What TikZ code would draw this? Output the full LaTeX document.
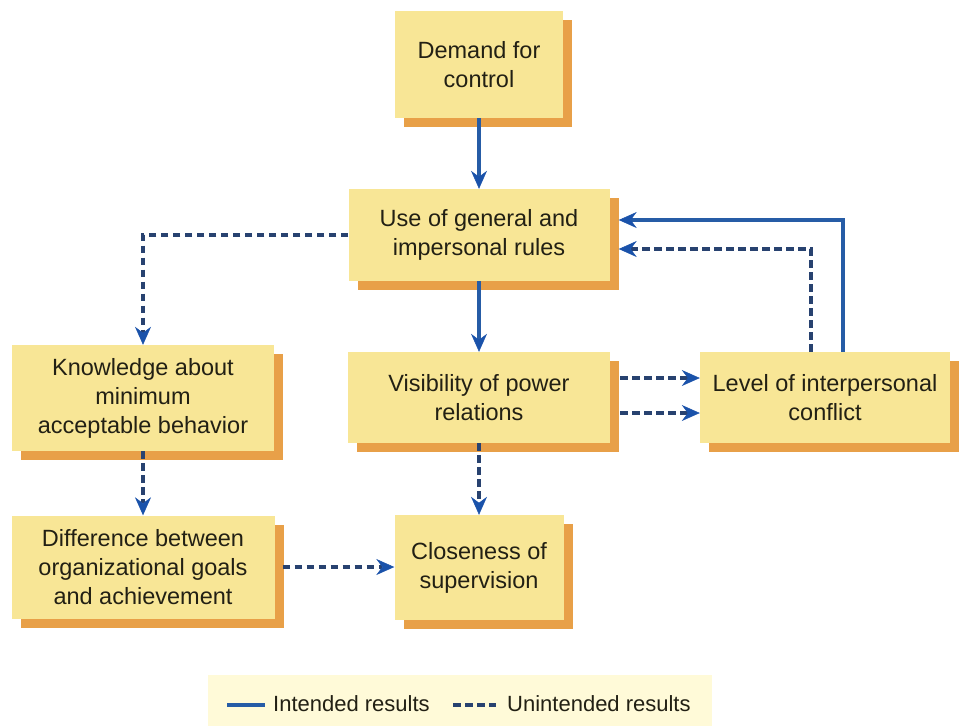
\documentclass[tikz,border=0pt]{standalone}
\usepackage{fontspec}
\setmainfont{Liberation Sans}
\usetikzlibrary{arrows.meta,shadows,calc}

\definecolor{boxfill}{RGB}{248,230,150}
\definecolor{boxshade}{RGB}{232,160,72}
\definecolor{legendfill}{RGB}{255,250,216}
\definecolor{solidblue}{RGB}{38,92,166}
\definecolor{dashnavy}{RGB}{40,66,112}
\definecolor{tipblue}{RGB}{26,82,170}
\definecolor{inkdark}{RGB}{34,32,20}

\tikzset{
  factor/.style={
    fill=boxfill, draw=none, align=center, text=inkdark,
    font=\fontsize{23.5pt}{29pt}\selectfont,
    inner sep=0pt,
    copy shadow={shadow xshift=9pt, shadow yshift=-9pt, fill=boxshade, draw=none, opacity=1}
  },
  tip/.style={-{Stealth[length=18pt,width=16pt,inset=6pt,color=tipblue,fill=tipblue,line width=0.5pt]}},
  intended/.style={tip, draw=solidblue, line width=3.2pt},
  unintended/.style={tip, draw=dashnavy, line width=3.2pt, dash pattern=on 7.5pt off 4.5pt},
  legendtext/.style={text=inkdark, font=\fontsize{22pt}{26pt}\selectfont, inner sep=0pt, anchor=west}
}

\begin{document}
\begin{tikzpicture}[x=1pt, y=-1pt]
  \useasboundingbox (0,0) rectangle (961,726);

  % factors
  \node[factor, minimum width=168pt, minimum height=107pt] (demand) at (479,64.5) {Demand for\\control};
  \node[factor, minimum width=261pt, minimum height=92pt] (rules) at (479,235) {Use of general and\\impersonal rules};
  \node[factor, minimum width=262pt, minimum height=106pt] (know) at (143,398) {Knowledge about\\minimum\\acceptable behavior};
  \node[factor, minimum width=262pt, minimum height=91pt] (vis) at (479,397.5) {Visibility of power\\relations};
  \node[factor, minimum width=250pt, minimum height=91pt] (level) at (825,397.5) {Level of interpersonal\\conflict};
  \node[factor, minimum width=263pt, minimum height=103pt] (diff) at (143,567) {Difference between\\organizational goals\\and achievement};
  \node[factor, minimum width=169pt, minimum height=105pt] (close) at (479,567.5) {Closeness of\\supervision};

  % intended results
  \draw[intended] (demand.south) -- (rules.north);
  \draw[intended] (rules.south) -- (vis.north);
  \draw[intended] ([xshift=18pt]level.north) |- ([xshift=9pt,yshift=15pt]rules.east);

  % unintended results
  \draw[unintended] (rules.west) -| (know.north);
  \draw[unintended] (know.south) -- (diff.north);
  \draw[unintended] (vis.south) -- (close.north);
  \draw[unintended] ([xshift=8pt]diff.east) -- (close.west |- diff.east);
  \draw[unintended] ([xshift=10pt,yshift=19.5pt]vis.east) -- ([yshift=19.5pt]level.west);
  \draw[unintended] ([xshift=10pt,yshift=-15.5pt]vis.east) -- ([yshift=-15.5pt]level.west);
  \draw[unintended] ([xshift=-14pt]level.north) |- ([xshift=9pt,yshift=-14pt]rules.east);

  % legend
  \node[fill=legendfill, minimum width=504pt, minimum height=51pt, inner sep=0pt] (legend) at (460,700.5) {};
  \coordinate (solidA) at (227,705);
  \coordinate (solidB) at (265,705);
  \coordinate (dashA) at (453,705);
  \coordinate (dashB) at (496,705);
  \draw[draw=solidblue, line width=3.2pt] (solidA) -- (solidB);
  \draw[draw=dashnavy, line width=3.2pt, dash pattern=on 7.5pt off 4.5pt] (dashA) -- (dashB);
  \node[legendtext] (lint) at (273,704) {Intended results};
  \node[legendtext] (lunint) at (507,704) {Unintended results};
\end{tikzpicture}
\end{document}
